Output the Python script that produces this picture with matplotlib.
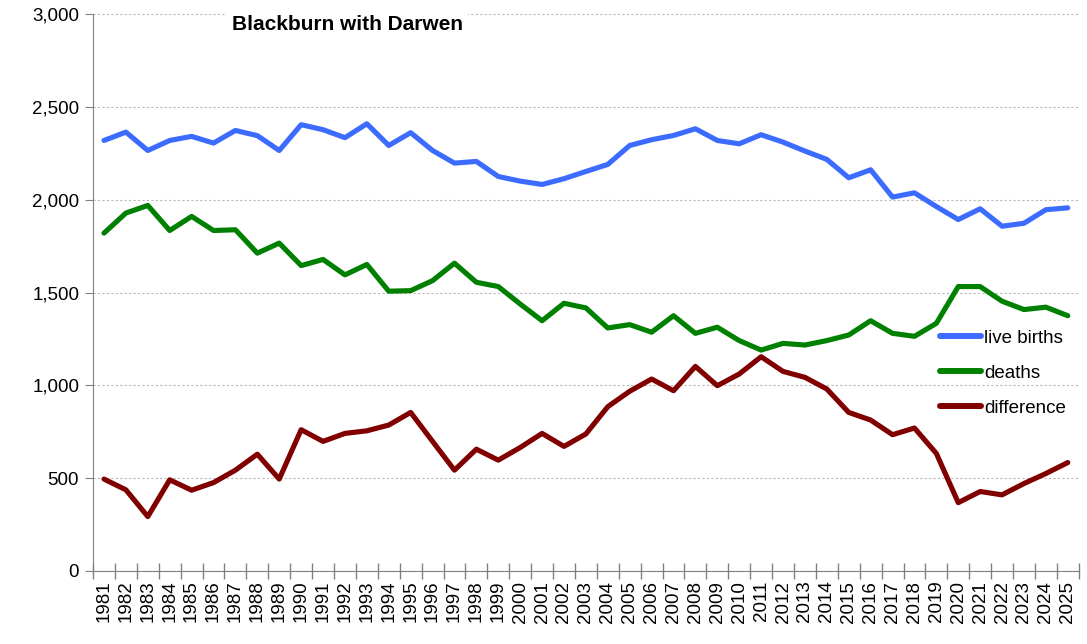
import matplotlib.pyplot as plt
from matplotlib.ticker import FuncFormatter, MultipleLocator

plt.rcParams["font.family"] = ["Liberation Sans", "DejaVu Sans"]

years = list(range(1981, 2026))

live_births = [
    2319, 2364, 2265, 2319, 2341, 2305, 2373, 2345, 2265, 2404,
    2377, 2334, 2409, 2292, 2361, 2265, 2197, 2206, 2125, 2100,
    2082, 2113, 2152, 2190, 2292, 2323, 2346, 2382, 2319, 2301,
    2350, 2310, 2262, 2217, 2118, 2161, 2014, 2037, 1963, 1893,
    1951, 1857, 1873, 1946, 1956,
]
deaths = [
    1820, 1928, 1969, 1834, 1910, 1834, 1838, 1712, 1766, 1645,
    1678, 1595, 1651, 1507, 1510, 1564, 1658, 1555, 1532, 1438,
    1348, 1442, 1417, 1309, 1327, 1286, 1375, 1280, 1313, 1241,
    1190, 1226, 1217, 1241, 1271, 1348, 1280, 1264, 1334, 1532,
    1532, 1453, 1408, 1421, 1375,
]
difference = [
    495, 437, 293, 491, 435, 476, 543, 629, 495, 761,
    698, 741, 755, 786, 854, 698, 543, 656, 597, 665,
    741, 671, 738, 885, 968, 1034, 971, 1102, 998, 1061,
    1154, 1075, 1043, 980, 854, 813, 734, 770, 633, 368,
    428, 410, 471, 525, 584,
]

series = [
    ("live births", live_births, "#3c6cff"),
    ("deaths", deaths, "#008000"),
    ("difference", difference, "#800000"),
]

fig = plt.figure(figsize=(10.87, 6.44), dpi=100)
ax = fig.add_axes([0.0856, 0.1134, 0.9068, 0.8648])

x = range(len(years))
for name, values, colour in series:
    ax.plot(x, values, color=colour, linewidth=3.7, label=name,
            solid_joinstyle="round", solid_capstyle="round")

ax.set_xlim(-0.5, len(years) - 0.5)
ax.set_ylim(0, 3000)
ax.yaxis.set_major_locator(MultipleLocator(500))
ax.yaxis.set_major_formatter(FuncFormatter(lambda v, _: f"{int(v):,}"))

ax.set_xticks(list(x))
ax.set_xticklabels([str(y) for y in years], rotation=90)
ax.set_xticks([i - 0.5 for i in range(len(years) + 1)], minor=True)
ax.tick_params(axis="x", which="major", length=0, labelsize=13.5, pad=7)
ax.tick_params(axis="x", which="minor", direction="inout", length=12,
               color="#808080", width=1)
ax.tick_params(axis="y", direction="out", length=6, color="#808080",
               labelsize=13.5, pad=4)

ax.grid(axis="y", color="#b8b8b8", linestyle=(0, (2, 2)), linewidth=0.8)
ax.set_axisbelow(True)
for side in ("top", "right"):
    ax.spines[side].set_visible(False)
for side in ("left", "bottom"):
    ax.spines[side].set_color("#808080")

ax.text(0.258, 0.982, "Blackburn with Darwen", transform=ax.transAxes,
        ha="center", va="center", fontsize=15, fontweight="bold",
        bbox=dict(facecolor="white", edgecolor="none", pad=4))

leg = ax.legend(loc="center left", bbox_to_anchor=(0.850, 0.355),
                frameon=False, fontsize=13.5, handlelength=2.15,
                handletextpad=0.2, labelspacing=0.95, borderpad=0)
for line in leg.get_lines():
    line.set_linewidth(4.3)
    line.set_solid_capstyle("round")

fig.savefig("out.png", dpi=100)
